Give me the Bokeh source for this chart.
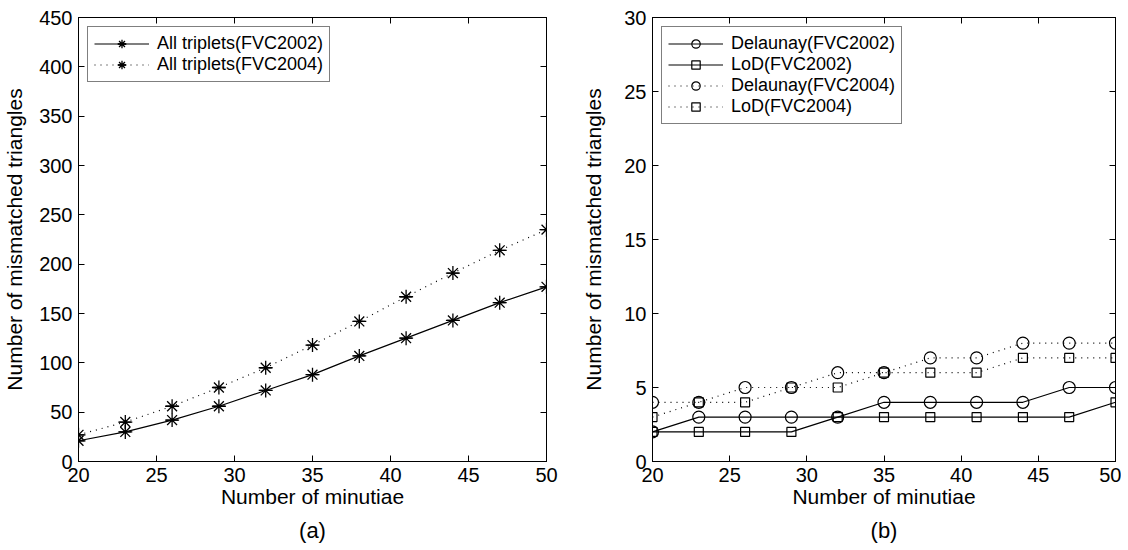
from bokeh.plotting import figure
from bokeh.layouts import row
from bokeh.models import Range1d, LinearAxis, Legend, LegendItem, Title, FixedTicker
from bokeh.embed import file_html
from bokeh.resources import INLINE

minutiae = [20, 23, 26, 29, 32, 35, 38, 41, 44, 47, 50]
all_fvc2002 = [21, 30, 42, 56, 72, 88, 107, 125, 143, 161, 177]
all_fvc2004 = [27, 40, 56, 75, 95, 118, 142, 167, 191, 214, 235]
del_fvc2002 = [2, 3, 3, 3, 3, 4, 4, 4, 4, 5, 5]
lod_fvc2002 = [2, 2, 2, 2, 3, 3, 3, 3, 3, 3, 4]
del_fvc2004 = [4, 4, 5, 5, 6, 6, 7, 7, 8, 8, 8]
lod_fvc2004 = [3, 4, 4, 5, 5, 6, 6, 6, 7, 7, 7]
x_ticks = [20, 25, 30, 35, 40, 45, 50]
y_ticks_a = [0, 50, 100, 150, 200, 250, 300, 350, 400, 450]
y_ticks_b = [0, 5, 10, 15, 20, 25, 30]

FONT = "Liberation Sans"
DOT = "1 5"


def style_axis(ax, ticks, show_labels=True):
    ax.ticker = FixedTicker(ticks=ticks)
    ax.major_tick_in = 6
    ax.major_tick_out = 0
    ax.minor_tick_line_color = None
    ax.axis_line_color = "black"
    ax.major_tick_line_color = "black"
    ax.major_label_text_font = FONT
    ax.major_label_text_color = "black"
    ax.axis_label_text_font = FONT
    ax.axis_label_text_font_style = "normal"
    ax.axis_label_text_font_size = "21px"
    ax.axis_label_text_color = "black"
    if show_labels:
        ax.major_label_text_font_size = "20px"
        ax.major_label_standoff = 6
    else:
        ax.major_label_text_font_size = "0px"
        ax.major_label_standoff = 0


def make_fig(fw, ymax, yticks, caption, bl, br, ystand):
    p = figure(frame_width=fw, frame_height=444,
               x_range=Range1d(20, 50), y_range=Range1d(0, ymax),
               output_backend="svg", toolbar_location=None,
               min_border_left=bl, min_border_right=br,
               min_border_top=17, min_border_bottom=4)
    p.grid.visible = False
    p.outline_line_color = "black"
    p.xaxis.axis_label = "Number of minutiae"
    p.yaxis.axis_label = "Number of mismatched triangles"
    style_axis(p.xaxis[0], x_ticks)
    style_axis(p.yaxis[0], yticks)
    p.xaxis.axis_label_standoff = 0
    p.yaxis.axis_label_standoff = ystand
    top = LinearAxis()
    style_axis(top, x_ticks, show_labels=False)
    right = LinearAxis()
    style_axis(right, yticks, show_labels=False)
    p.add_layout(top, "above")
    p.add_layout(right, "right")
    p.add_layout(Title(text=caption, align="center", text_font=FONT,
                       text_font_size="22px", text_font_style="normal",
                       text_color="black", standoff=10), "below")
    return p


def make_legend(p, items):
    leg = Legend(items=items, location="top_left", margin=9,
                 border_line_color="black", border_line_width=1,
                 padding=6, spacing=0, glyph_width=55, glyph_height=21,
                 label_height=21, label_standoff=8,
                 label_text_font=FONT, label_text_font_size="18px",
                 label_text_color="black", background_fill_alpha=1)
    p.add_layout(leg, "center")


# Panel (a)
p1 = make_fig(468, 450, y_ticks_a, "(a)", 77, 33, 10)
leg_a = []
for ys, dash, lab in [(all_fvc2002, "solid", "All triplets(FVC2002)"),
                      (all_fvc2004, DOT, "All triplets(FVC2004)")]:
    ln = p1.line(minutiae, ys, line_color="black", line_width=1.2, line_dash=dash)
    s1 = p1.scatter(minutiae, ys, marker="asterisk", size=14,
                    line_color="black", line_width=1.3)
    s2 = p1.scatter(minutiae, ys, marker="dash", size=12,
                    line_color="black", line_width=1.3)
    leg_a.append(LegendItem(label=lab, renderers=[ln, s1, s2]))
make_legend(p1, leg_a)

# Panel (b)
p2 = make_fig(463, 30, y_ticks_b, "(b)", 62, 6, 16)
items = []
for ys, mk, dash, lab in [(del_fvc2002, "circle", "solid", "Delaunay(FVC2002)"),
                          (lod_fvc2002, "square", "solid", "LoD(FVC2002)"),
                          (del_fvc2004, "circle", DOT, "Delaunay(FVC2004)"),
                          (lod_fvc2004, "square", DOT, "LoD(FVC2004)")]:
    ln = p2.line(minutiae, ys, line_color="black", line_width=1.2, line_dash=dash)
    sc = p2.scatter(minutiae, ys, marker=mk, size=12 if mk == "circle" else 9,
                    line_color="black", fill_color=None, line_width=1.2)
    items.append(LegendItem(label=lab, renderers=[ln, sc]))
make_legend(p2, items)

layout = row(p1, p2, spacing=0)
open("out.html", "w").write(file_html(layout, INLINE))
